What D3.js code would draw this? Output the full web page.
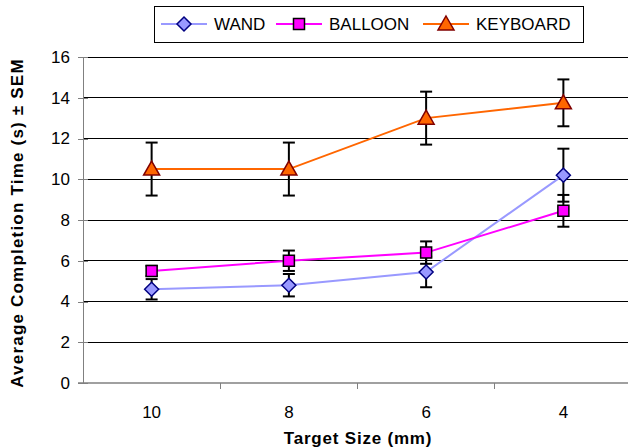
<!DOCTYPE html>
<html>
<head>
<meta charset="utf-8">
<script src="https://cdn.jsdelivr.net/npm/d3@7"></script>
<style>
  body { margin: 0; background: #fff; }
  text { font-family: "Liberation Sans", Arial, sans-serif; }
</style>
</head>
<body>
<div id="chart"></div>
<script>
// Data
const sizes = ["10", "8", "6", "4"];
const yTicks = [0, 2, 4, 6, 8, 10, 12, 14, 16];
const wand = [4.6, 4.8, 5.45, 10.2];
const wandErr = [0.5, 0.55, 0.75, 1.3];
const balloon = [5.5, 6.0, 6.4, 8.45];
const balloonErr = [0.25, 0.5, 0.55, 0.78];
const keyboard = [10.5, 10.5, 13.0, 13.75];
const keyboardErr = [1.3, 1.3, 1.3, 1.15];

// marker shapes (custom paths, centred on 0,0)
const diamond = "M0,-7L7,0L0,7L-7,0Z";
const square = "M-5.5,-5.5H5.5V5.5H-5.5Z";
const triangle = "M0,-8L8,6H-8Z";

const series = [
  { name: "WAND", values: wand, err: wandErr, line: "#9999ff", fill: "#9999ff", stroke: "#000080", shape: diamond },
  { name: "BALLOON", values: balloon, err: balloonErr, line: "#ff00ff", fill: "#ff00ff", stroke: "#000000", shape: square },
  { name: "KEYBOARD", values: keyboard, err: keyboardErr, line: "#ff6600", fill: "#ff6600", stroke: "#800000", shape: triangle }
];

const width = 628, height = 448;
const margin = { top: 57, right: -4, bottom: 65, left: 83 };
const innerW = width - margin.left - margin.right;
const innerH = height - margin.top - margin.bottom;

const svg = d3.select("#chart").append("svg")
  .attr("width", width)
  .attr("height", height);

const g = svg.append("g")
  .attr("transform", "translate(" + margin.left + "," + margin.top + ")");

const x = d3.scaleBand().domain(sizes).range([0, innerW]);
const y = d3.scaleLinear().domain([0, 16]).range([innerH, 0]);

// Gridlines
g.selectAll(".grid")
  .data(yTicks.filter(d => d > 0))
  .enter().append("line")
  .attr("x1", 0).attr("x2", innerW)
  .attr("y1", d => y(d)).attr("y2", d => y(d))
  .attr("stroke", "#000").attr("stroke-width", 1)
  .attr("shape-rendering", "crispEdges");

// Y axis
const yAxis = g.append("g")
  .call(d3.axisLeft(y).tickValues(yTicks).tickSize(5).tickPadding(8));
yAxis.selectAll("text").attr("font-size", 17).attr("fill", "#000");
yAxis.selectAll(".tick line").attr("x1", 5);
yAxis.selectAll("line, path").attr("stroke", "#808080").attr("shape-rendering", "crispEdges");
yAxis.select(".domain").attr("d", "M0," + innerH + "V0");

// X axis
const xAxis = g.append("g").attr("transform", "translate(0," + innerH + ")");
xAxis.append("line")
  .attr("x1", -5).attr("x2", innerW)
  .attr("stroke", "#808080").attr("stroke-width", 1.5);
xAxis.selectAll(".xtick")
  .data(sizes.slice(1))
  .enter().append("line")
  .attr("x1", d => x(d)).attr("x2", d => x(d))
  .attr("y1", 0).attr("y2", 6)
  .attr("stroke", "#808080").attr("shape-rendering", "crispEdges");
xAxis.selectAll(".xlabel")
  .data(sizes)
  .enter().append("text")
  .attr("x", d => x(d) + x.bandwidth() / 2)
  .attr("y", 35)
  .attr("text-anchor", "middle")
  .attr("font-size", 17)
  .text(d => d);

const cx = d => x(d) + x.bandwidth() / 2;

// Error bars
series.forEach(s => {
  const eb = g.append("g").attr("stroke", "#000").attr("stroke-width", 2);
  sizes.forEach((k, i) => {
    const hi = y(s.values[i] + s.err[i]);
    const lo = y(s.values[i] - s.err[i]);
    eb.append("line").attr("x1", cx(k)).attr("x2", cx(k)).attr("y1", hi).attr("y2", lo);
    eb.append("line").attr("x1", cx(k) - 6).attr("x2", cx(k) + 6).attr("y1", hi).attr("y2", hi);
    eb.append("line").attr("x1", cx(k) - 6).attr("x2", cx(k) + 6).attr("y1", lo).attr("y2", lo);
  });
});

// Lines and markers
const line = d3.line().x((d, i) => cx(sizes[i])).y(d => y(d));
series.forEach(s => {
  g.append("path")
    .datum(s.values)
    .attr("fill", "none")
    .attr("stroke", s.line)
    .attr("stroke-width", 2)
    .attr("d", line);
});
series.forEach(s => {
  g.selectAll(null)
    .data(s.values)
    .enter().append("path")
    .attr("transform", (d, i) => "translate(" + cx(sizes[i]) + "," + y(d) + ")")
    .attr("d", s.shape)
    .attr("fill", s.fill)
    .attr("stroke", s.stroke)
    .attr("stroke-width", 1.5);
});

// Axis titles
svg.append("text")
  .attr("transform", "translate(23,223)rotate(-90)")
  .attr("text-anchor", "middle")
  .attr("font-size", 17)
  .attr("font-weight", "bold")
  .attr("letter-spacing", 1.2)
  .text("Average Completion Time (s) \u00b1 SEM");

svg.append("text")
  .attr("x", 358)
  .attr("y", 444)
  .attr("text-anchor", "middle")
  .attr("font-size", 17)
  .attr("font-weight", "bold")
  .attr("letter-spacing", 0.8)
  .text("Target Size (mm)");

// Legend
const legend = svg.append("g");
legend.append("rect")
  .attr("x", 154.5).attr("y", 6.5)
  .attr("width", 429).attr("height", 36)
  .attr("fill", "#fff").attr("stroke", "#000").attr("stroke-width", 1);
const legendX = [161, 276, 423];
series.forEach((s, i) => {
  const lx = legendX[i];
  legend.append("line")
    .attr("x1", lx).attr("x2", lx + 46)
    .attr("y1", 24).attr("y2", 24)
    .attr("stroke", s.line).attr("stroke-width", 2);
  legend.append("path")
    .attr("transform", "translate(" + (lx + 23) + ",24)")
    .attr("d", s.shape)
    .attr("fill", s.fill).attr("stroke", s.stroke).attr("stroke-width", 1.5);
  legend.append("text")
    .attr("x", lx + 53).attr("y", 30)
    .attr("font-size", 17)
    .text(s.name);
});
</script>
</body>
</html>
